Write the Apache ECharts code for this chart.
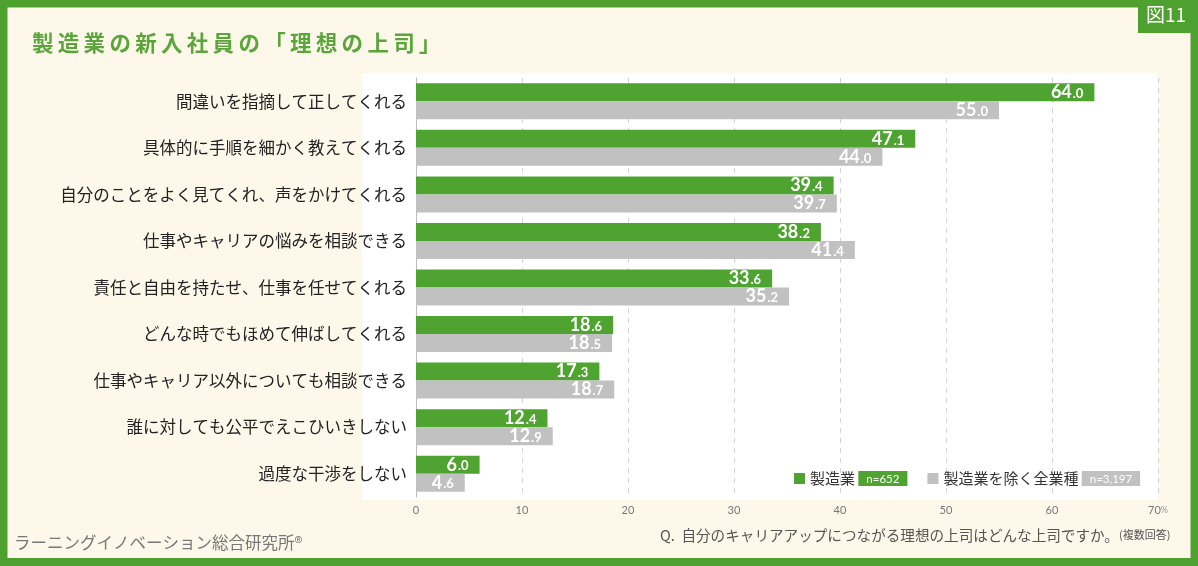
<!DOCTYPE html>
<html>
<head>
<meta charset="utf-8">
<script src="https://cdn.jsdelivr.net/npm/echarts@6/dist/echarts.min.js"></script>
<style>
  html, body { margin: 0; padding: 0; background: #fdf8e9; }
  #chart { width: 1198px; height: 566px; }
</style>
</head>
<body>
<div id="chart"></div>
<script>
// 項目（上から順に）
const categories = [
  '間違いを指摘して正してくれる',
  '具体的に手順を細かく教えてくれる',
  '自分のことをよく見てくれ、声をかけてくれる',
  '仕事やキャリアの悩みを相談できる',
  '責任と自由を持たせ、仕事を任せてくれる',
  'どんな時でもほめて伸ばしてくれる',
  '仕事やキャリア以外についても相談できる',
  '誰に対しても公平でえこひいきしない',
  '過度な干渉をしない'
]
const seriesNames = ['製造業', '製造業を除く全業種']
const sampleSizes = ['n=652', 'n=3,197']
const manufacturing = [64.0, 47.1, 39.4, 38.2, 33.6, 18.6, 17.3, 12.4, 6.0]
const otherIndustries = [55.0, 44.0, 39.7, 41.4, 35.2, 18.5, 18.7, 12.9, 4.6]
const xTicks = [0, 10, 20, 30, 40, 50, 60, 70]

const GREEN = '#4fa330'
const GRAY = '#c1c1c1'
const JP = '"Noto Sans CJK JP", sans-serif'
const NUM = 'Lato, "Noto Sans", sans-serif'

// 「64.0」の小数部分を小さく
function valueLabel(p) {
  const parts = p.value.toFixed(1).split('.')
  return '{i|' + parts[0] + '}{d|.' + parts[1] + '}'
}
const labelRich = {
  i: { color: '#fff', fontSize: 18, fontWeight: 'bold', fontFamily: NUM, padding: [0, 1, 0, 0] },
  d: { color: '#fff', fontSize: 13, fontWeight: 'bold', fontFamily: NUM, padding: [3, 0, 0, 0] }
}

// タイトルの字間
const titleText = '製造業の新入社員の「理想の上司」'.split('').join('\u2009')

const option = {
  backgroundColor: '#fdf8e9',
  animation: false,
  graphic: [
    // 枠線
    { type: 'rect', shape: { x: 0, y: 0, width: 1198, height: 566 },
      style: { fill: 'none', stroke: '#4ea12e', lineWidth: 15 }, z: -1 },
    { type: 'rect', shape: { x: 0, y: 558, width: 1198, height: 8 },
      style: { fill: '#4ea12e' }, z: -1 },
    // 白いパネル
    { type: 'rect', shape: { x: 362, y: 73, width: 796, height: 427 },
      style: { fill: '#ffffff' }, z: -2 },
    // 図11
    { type: 'rect', shape: { x: 1138, y: 0, width: 60, height: 33 },
      style: { fill: '#4ea12e' }, z: 0 },
    { type: 'text', left: 1146, top: 5,
      style: { text: '図11', fill: '#fff', fontSize: 19, fontFamily: JP } },
    // タイトル
    { type: 'text', left: 32, top: 32,
      style: { text: titleText, fill: '#5aa63b', fontSize: 21.5, fontWeight: 'bold', fontFamily: JP } },
    // 出典
    { type: 'text', left: 14, top: 534,
      style: { text: 'ラーニングイノベーション総合研究所®', fill: '#777', fontSize: 16.5, fontFamily: JP } },
    // 設問
    { type: 'text', left: 660, top: 528,
      style: {
        text: '{q|Q.  自分のキャリアアップにつながる理想の上司はどんな上司ですか。}{s|(複数回答)}',
        rich: {
          q: { fill: '#555', fontSize: 14.6, fontFamily: JP },
          s: { fill: '#555', fontSize: 11, fontFamily: JP }
        }
      } }
  ],
  grid: { left: 416, right: 40, top: 78, bottom: 69 },
  legend: {
    data: seriesNames,
    left: 789,
    top: 466,
    itemWidth: 11,
    itemHeight: 11,
    itemGap: 20,
    icon: 'rect',
    formatter: function (name) {
      const i = seriesNames.indexOf(name)
      return '{t|' + name + '} {' + (i === 0 ? 'g' : 'h') + '|' + sampleSizes[i] + '}'
    },
    textStyle: {
      rich: {
        t: { fontSize: 15, color: '#333', fontFamily: JP },
        g: { fontSize: 11.5, color: '#fff', backgroundColor: GREEN, padding: [2, 8, 1, 8], fontFamily: NUM },
        h: { fontSize: 11.5, color: '#fff', backgroundColor: GRAY, padding: [2, 8, 1, 8], fontFamily: NUM }
      }
    }
  },
  xAxis: {
    type: 'value',
    min: xTicks[0],
    max: xTicks[xTicks.length - 1],
    interval: 10,
    axisLine: { show: false },
    axisTick: { show: false },
    splitLine: { lineStyle: { type: [5, 5], color: '#d3d3d3' } },
    axisLabel: {
      margin: 8,
      color: '#777',
      fontSize: 11,
      fontFamily: NUM,
      formatter: function (v) {
        return v === 70 ? '{v|70}{p|%}' : String(v)
      },
      rich: {
        v: { color: '#777', fontSize: 11, fontFamily: NUM },
        p: { color: '#999', fontSize: 9, fontFamily: NUM }
      }
    }
  },
  yAxis: {
    type: 'category',
    inverse: true,
    data: categories,
    axisLine: { lineStyle: { color: '#bbb' } },
    axisTick: { show: false },
    axisLabel: { color: '#222', fontSize: 16.5, fontFamily: JP, margin: 9 }
  },
  series: [
    {
      name: seriesNames[0],
      type: 'bar',
      data: manufacturing,
      barWidth: 18,
      barGap: '0%',
      itemStyle: { color: GREEN },
      label: { show: true, position: 'insideRight', distance: 11, formatter: valueLabel, rich: labelRich }
    },
    {
      name: seriesNames[1],
      type: 'bar',
      data: otherIndustries,
      barWidth: 18,
      barGap: '0%',
      itemStyle: { color: GRAY },
      label: { show: true, position: 'insideRight', distance: 11, formatter: valueLabel, rich: labelRich }
    }
  ]
}

const chart = echarts.init(document.getElementById('chart'))
chart.setOption(option)
</script>
</body>
</html>
